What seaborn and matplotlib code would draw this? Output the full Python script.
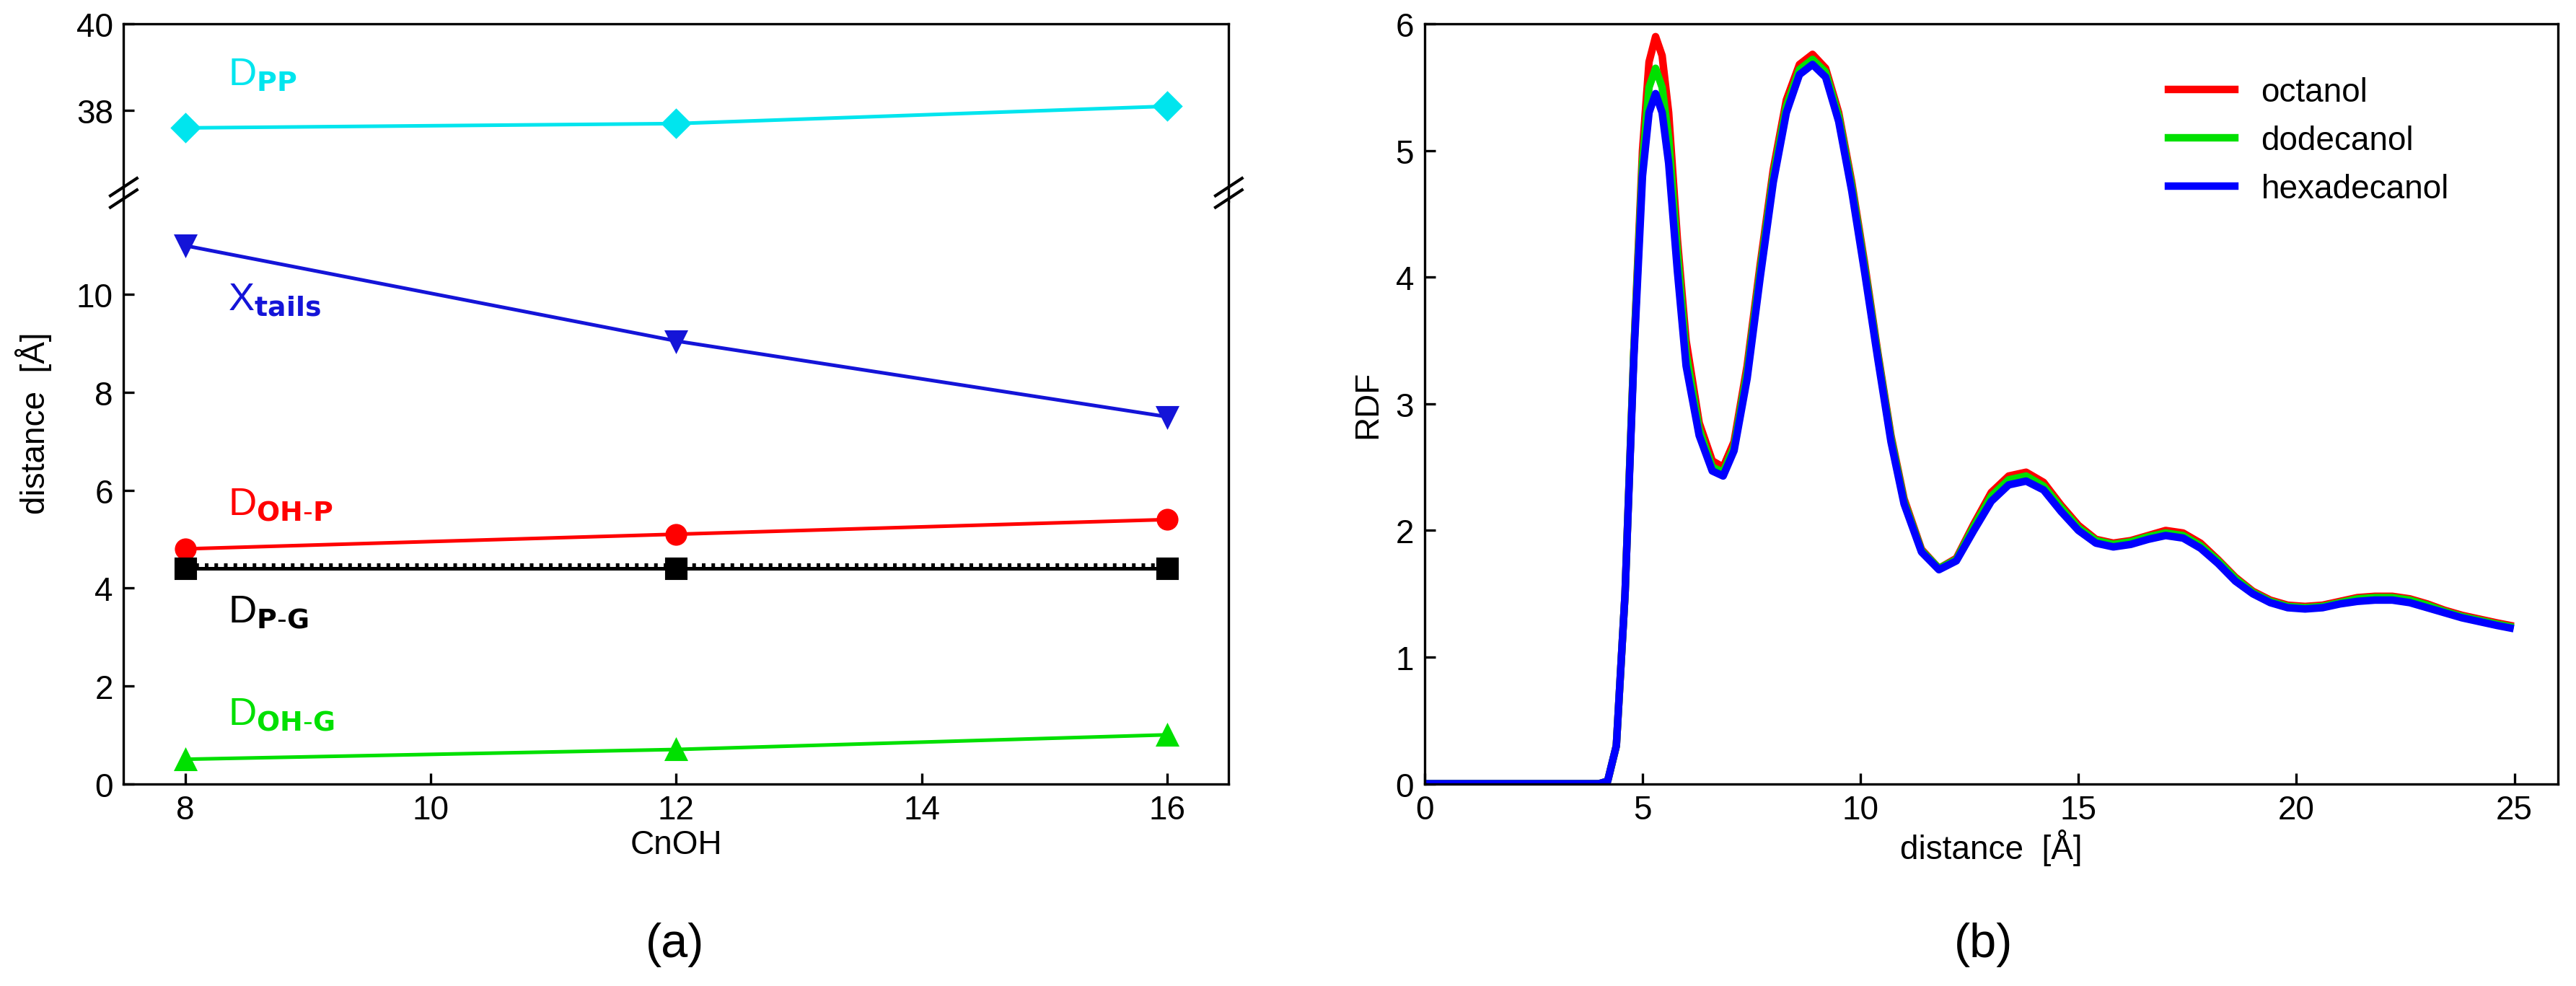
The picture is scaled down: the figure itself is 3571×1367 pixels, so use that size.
import numpy as np
import pandas as pd
import seaborn as sns
import matplotlib
matplotlib.use("Agg")
import matplotlib.pyplot as plt

cn = [8, 12, 16]
d_pp = [37.6, 37.7, 38.1]
x_tails = [11.0, 9.05, 7.5]
d_ohp = [4.8, 5.1, 5.4]
d_pg = [4.4, 4.4, 4.4]
d_ohg = [0.5, 0.7, 1.0]

r = [0, 4.0, 4.2, 4.4, 4.6, 4.8, 5.0, 5.15, 5.3, 5.45, 5.6, 5.8, 6.0, 6.3, 6.6, 6.85, 7.1, 7.4, 7.7, 8.0, 8.3, 8.6, 8.9, 9.2, 9.5, 9.8, 10.1, 10.4, 10.7, 11.0, 11.4, 11.8, 12.2, 12.6, 13.0, 13.4, 13.8, 14.2, 14.6, 15.0, 15.4, 15.8, 16.2, 16.6, 17.0, 17.4, 17.8, 18.2, 18.6, 19.0, 19.4, 19.8, 20.2, 20.6, 21.0, 21.4, 21.8, 22.2, 22.6, 23.0, 23.4, 23.8, 24.2, 24.6, 24.9]
octanol = [0, 0, 0.02, 0.3, 1.5, 3.4, 5.0, 5.7, 5.9, 5.75, 5.3, 4.3, 3.5, 2.85, 2.55, 2.5, 2.7, 3.3, 4.1, 4.85, 5.4, 5.68, 5.76, 5.65, 5.3, 4.75, 4.1, 3.4, 2.75, 2.25, 1.85, 1.7, 1.78, 2.05, 2.3, 2.43, 2.46, 2.38, 2.2, 2.04, 1.93, 1.9, 1.92, 1.96, 2.0, 1.98, 1.9, 1.77, 1.63, 1.52, 1.45, 1.41, 1.4, 1.41, 1.44, 1.47, 1.48, 1.48, 1.46, 1.42, 1.37, 1.33, 1.3, 1.27, 1.25]
dodecanol = [0, 0, 0.02, 0.3, 1.5, 3.4, 4.9, 5.5, 5.65, 5.5, 5.1, 4.2, 3.4, 2.8, 2.5, 2.46, 2.66, 3.25, 4.05, 4.8, 5.35, 5.64, 5.72, 5.62, 5.27, 4.72, 4.07, 3.38, 2.73, 2.23, 1.84, 1.7, 1.77, 2.03, 2.27, 2.4, 2.43, 2.35, 2.18, 2.02, 1.92, 1.89, 1.91, 1.95, 1.98, 1.96, 1.88, 1.76, 1.62, 1.51, 1.44, 1.4, 1.39, 1.4, 1.43, 1.46, 1.47, 1.47, 1.45, 1.41, 1.36, 1.32, 1.29, 1.26, 1.24]
hexadecanol = [0, 0, 0.02, 0.3, 1.5, 3.35, 4.8, 5.3, 5.45, 5.3, 4.9, 4.05, 3.3, 2.75, 2.47, 2.43, 2.63, 3.2, 4.0, 4.75, 5.3, 5.6, 5.68, 5.58, 5.23, 4.68, 4.03, 3.35, 2.7, 2.21, 1.83, 1.69, 1.76, 2.0, 2.23, 2.36, 2.39, 2.32, 2.15, 2.0, 1.9, 1.87, 1.89, 1.93, 1.96, 1.94, 1.86, 1.74, 1.6, 1.5, 1.43, 1.39, 1.38, 1.39, 1.42, 1.44, 1.45, 1.45, 1.43, 1.39, 1.35, 1.31, 1.28, 1.25, 1.23]

plt.rcParams["font.family"] = "Liberation Sans"
plt.rcParams["font.size"] = 11
fig = plt.figure(figsize=(3571/300, 1368/300), dpi=300)
L, R = 0.048, 0.477
axU = fig.add_axes([L, 0.795, R-L, 0.18])
axD = fig.add_axes([L, 0.205, R-L, 0.59])
axR = fig.add_axes([0.553, 0.205, 0.44, 0.77])

series = [(d_pp, "#00e5ee", "D", axU), (x_tails, "#1414d8", "v", axD), (d_ohp, "#ff0000", "o", axD),
          (d_pg, "#000000", "s", axD), (d_ohg, "#00e000", "^", axD)]
for vals, c, m, ax in series:
    sns.lineplot(x=cn, y=vals, color=c, marker=m, markersize=6.5, markeredgecolor=c, ax=ax, lw=1.2)
axD.plot(cn, [v + 0.07 for v in d_pg], color="k", ls=":", lw=1.2)

for ax in (axU, axD):
    ax.set_xlim(7.5, 16.5)
axU.set_ylim(35.9, 40)
axD.set_ylim(0, 11.9)
axU.set_yticks([38, 40])
axD.set_yticks([0, 2, 4, 6, 8, 10])
axU.set_xticks([])
axU.spines["bottom"].set_visible(False)
axD.spines["top"].set_visible(False)
axD.set_xticks([8, 10, 12, 14, 16])
axD.set_xlabel("CnOH", labelpad=1)
axD.set_ylabel("distance  [Å]")
axD.yaxis.set_label_coords(-0.065, 0.62)
for ax in (axU, axD, axR):
    ax.tick_params(direction="in", top=False, right=False)
kw = dict(transform=axD.transAxes, color="k", clip_on=False, lw=1)
for xx in (0, 1):
    axD.plot([xx-0.012, xx+0.012], [0.99, 1.02], **kw)
    axD.plot([xx-0.012, xx+0.012], [1.01, 1.04], **kw)

axU.text(8.35, 38.6, r"D$_{\mathbf{PP}}$", color="#00e5ee", fontsize=13)
axD.text(8.35, 9.7, r"X$_{\mathbf{tails}}$", color="#1414d8", fontsize=13)
axD.text(8.35, 5.5, r"D$_{\mathbf{OH\text{-}P}}$", color="#ff0000", fontsize=13)
axD.text(8.35, 3.3, r"D$_{\mathbf{P\text{-}G}}$", color="#000000", fontsize=13)
axD.text(8.35, 1.2, r"D$_{\mathbf{OH\text{-}G}}$", color="#00e000", fontsize=13)

df = pd.DataFrame({"r": r * 3, "g": octanol + dodecanol + hexadecanol,
                   "name": ["octanol"] * len(r) + ["dodecanol"] * len(r) + ["hexadecanol"] * len(r)})
sns.lineplot(data=df, x="r", y="g", hue="name", palette=["#ff0000", "#00e000", "#0000ff"], lw=2.5, ax=axR)
axR.set_xlim(0, 26)
axR.set_ylim(0, 6)
axR.set_xticks([0, 5, 10, 15, 20, 25])
axR.set_xlabel("distance  [Å]", labelpad=1)
axR.set_ylabel("RDF")
axR.legend(title=None, frameon=False, loc="upper right", bbox_to_anchor=(0.93, 0.97), fontsize=11, handlelength=2)

fig.text(0.262, 0.03, "(a)", ha="center", fontsize=16)
fig.text(0.77, 0.03, "(b)", ha="center", fontsize=16)
fig.savefig("out.png", dpi=300)
